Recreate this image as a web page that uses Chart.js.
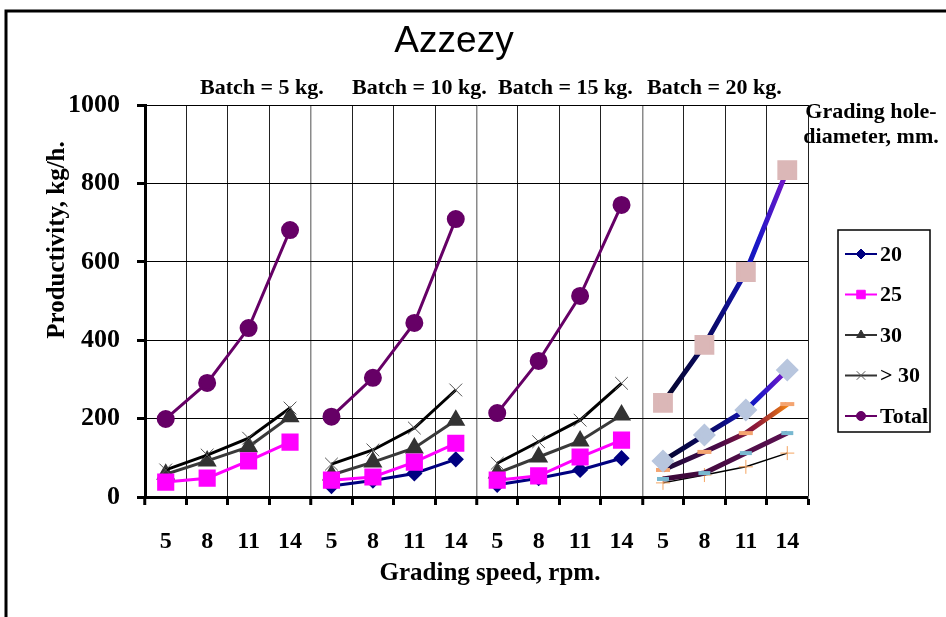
<!DOCTYPE html>
<html>
<head>
<meta charset="utf-8">
<script src="https://cdn.jsdelivr.net/npm/chart.js@4"></script>
<style>
  html, body { margin: 0; padding: 0; background: #fff; }
  #wrap { width: 946px; height: 617px; }
</style>
</head>
<body>
<div id="wrap"><canvas id="myChart" width="946" height="617"></canvas></div>
<script>
const speeds = ['5', '8', '11', '14'];
const labels = [...speeds, ...speeds, ...speeds, ...speeds];
const batches = ['Batch = 5 kg.', 'Batch = 10 kg.', 'Batch = 15 kg.', 'Batch = 20 kg.'];

// productivity, kg/h — 4 batches x 4 speeds
const d20     = [null, null, null, null, 28, 42, 60, 96, 31, 48, 69, 99, 36, 56, 77, 112];
const d25     = [38, 48, 92, 140, 43, 51, 89, 137, 43, 54, 102, 145, 46, 61, 112, 163];
const d30     = [58, 92, 128, 205, 56, 89, 125, 196, 61, 102, 143, 209, 69, 115, 163, 237];
const dOver30 = [69, 107, 150, 227, 84, 120, 176, 273, 86, 141, 196, 290, 92, 158, 222, 324];
const dTotal  = [199, 291, 431, 681, 205, 304, 444, 709, 214, 347, 513, 745, 240, 388, 574, 834];

const serif = '"Liberation Serif", "Times New Roman", serif';

// first three batches share one style, the last one is drawn differently
const first = arr => arr.map((v, i) => i < 12 ? v : null);
const last = arr => arr.map((v, i) => i >= 12 ? v : null);

// break the line between batches
const gap = { borderColor: c => c.p0DataIndex % 4 === 3 ? 'rgba(0,0,0,0)' : undefined };

function grad(stops) {
  return function (c) {
    const chart = c.chart;
    if (!chart.chartArea || !chart.scales.x) return stops[0][1];
    const x = chart.scales.x;
    const g = chart.ctx.createLinearGradient(x.getPixelForValue(12), 0, x.getPixelForValue(15), 0);
    stops.forEach(s => g.addColorStop(s[0], s[1]));
    return g;
  };
}

const frame = {
  id: 'frame',
  beforeDraw(chart) {
    const { ctx } = chart;
    ctx.save();
    ctx.fillStyle = '#fff';
    ctx.fillRect(0, 0, chart.width, chart.height);
    ctx.strokeStyle = '#000';
    ctx.lineWidth = 3;
    ctx.beginPath();
    ctx.moveTo(6, chart.height);
    ctx.lineTo(6, 11);
    ctx.lineTo(chart.width, 11);
    ctx.stroke();
    ctx.restore();
  }
};

const texts = {
  id: 'texts',
  afterDraw(chart) {
    const { ctx } = chart;
    ctx.save();
    ctx.fillStyle = '#000';
    ctx.textBaseline = 'alphabetic';

    ctx.font = '37px "Liberation Sans", Arial, sans-serif';
    ctx.textAlign = 'center';
    ctx.fillText('Azzezy', 454, 52);

    ctx.font = 'bold 22px ' + serif;
    ctx.textAlign = 'left';
    [200, 352, 498, 647].forEach((x, i) => ctx.fillText(batches[i], x, 94));

    ctx.textAlign = 'center';
    ctx.fillText('Grading hole-', 871, 118);
    ctx.fillText('diameter, mm.', 871, 143);

    ctx.font = 'bold 25px ' + serif;
    ctx.fillText('Grading speed, rpm.', 490, 580);

    ctx.save();
    ctx.translate(64, 240);
    ctx.rotate(-Math.PI / 2);
    ctx.fillText('Productivity, kg/h.', 0, 0);
    ctx.restore();

    // legend
    const L = 838, T = 230, W = 92, H = 202;
    ctx.lineWidth = 1.5;
    ctx.strokeStyle = '#000';
    ctx.strokeRect(L, T, W, H);
    ctx.font = 'bold 22px ' + serif;
    ctx.textAlign = 'left';
    ctx.textBaseline = 'middle';
    chart.data.datasets.slice(0, 5).forEach((ds, i) => {
      const y = 254 + i * 40.5;
      ctx.strokeStyle = ds.legendColor;
      ctx.lineWidth = 2;
      ctx.beginPath();
      ctx.moveTo(845, y);
      ctx.lineTo(877, y);
      ctx.stroke();
      ctx.fillStyle = ds.pointBackgroundColor;
      ctx.strokeStyle = ds.pointBorderColor;
      ctx.lineWidth = 1;
      Chart.helpers.drawPoint(ctx, { pointStyle: ds.pointStyle, radius: ds.legendRadius, rotation: 0, borderWidth: 1 }, 861, y);
      ctx.fillStyle = '#000';
      ctx.fillText(ds.label, 880, y + 1);
    });
    ctx.restore();
  }
};

new Chart(document.getElementById('myChart'), {
  type: 'line',
  data: {
    labels: labels,
    datasets: [
      {
        label: '20', data: first(d20), order: 2,
        borderColor: '#000080', legendColor: '#000080', borderWidth: 3,
        pointStyle: 'rectRot', pointRadius: 6, legendRadius: 5,
        pointBackgroundColor: '#000080', pointBorderColor: '#000080', segment: gap
      },
      {
        label: '25', data: first(d25), order: 1,
        borderColor: '#ff00ff', legendColor: '#ff00ff', borderWidth: 3,
        pointStyle: 'rect', pointRadius: 10, legendRadius: 6,
        pointBackgroundColor: '#ff00ff', pointBorderColor: '#ff00ff', segment: gap
      },
      {
        label: '30', data: first(d30), order: 4,
        borderColor: '#3a3a3a', legendColor: '#333333', borderWidth: 3,
        pointStyle: 'triangle', pointRadius: 8, legendRadius: 5,
        pointBackgroundColor: '#333333', pointBorderColor: '#333333', segment: gap
      },
      {
        label: '> 30', data: first(dOver30), order: 3,
        borderColor: '#000000', legendColor: '#333333', borderWidth: 3,
        pointStyle: 'crossRot', pointRadius: 9, legendRadius: 6, pointBorderWidth: 1,
        pointBackgroundColor: '#555555', pointBorderColor: '#555555', segment: gap
      },
      {
        label: 'Total', data: first(dTotal), order: 5,
        borderColor: '#660066', legendColor: '#660066', borderWidth: 3,
        pointStyle: 'circle', pointRadius: 7.5, legendRadius: 4.5,
        pointBackgroundColor: '#660066', pointBorderColor: '#660066', segment: gap
      },
      // batch = 20 kg.
      {
        label: 'Total 20kg', data: last(dTotal), order: 6,
        borderColor: grad([[0, '#05052a'], [0.4, '#0a0a6a'], [0.75, '#1818c8'], [1, '#7a18c8']]), borderWidth: 5,
        pointStyle: 'rect', pointRadius: 10.5,
        pointBackgroundColor: '#dbb7b7', pointBorderColor: '#dbb7b7'
      },
      {
        label: '> 30 20kg', data: last(dOver30), order: 6,
        borderColor: grad([[0, '#05052a'], [0.4, '#0a0a6a'], [0.75, '#1818c8'], [1, '#7a18c8']]), borderWidth: 5,
        pointStyle: 'rectRot', pointRadius: 8,
        pointBackgroundColor: '#b8c6de', pointBorderColor: '#b8c6de'
      },
      {
        label: '30 20kg', data: last(d30), order: 6,
        borderColor: grad([[0, '#1a0a3a'], [0.45, '#4a0a48'], [0.75, '#901838'], [1, '#f08010']]), borderWidth: 5,
        pointStyle: 'line', pointRadius: 7, pointBorderWidth: 4,
        pointBackgroundColor: '#f4a470', pointBorderColor: '#f4a470'
      },
      {
        label: '25 20kg', data: last(d25), order: 6,
        borderColor: grad([[0, '#3a0838'], [1, '#5a1050']]), borderWidth: 5,
        pointStyle: 'line', pointRadius: 6, pointBorderWidth: 4,
        pointBackgroundColor: '#78b8d0', pointBorderColor: '#78b8d0'
      },
      {
        label: '20 20kg', data: last(d20), order: 6,
        borderColor: '#000000', borderWidth: 1.5,
        pointStyle: 'cross', pointRadius: 7, pointBorderWidth: 1,
        pointBackgroundColor: '#f4a460', pointBorderColor: '#f4a460'
      }
    ]
  },
  options: {
    responsive: false,
    animation: false,
    layout: { padding: { top: 105, right: 138, left: 0, bottom: 0 } },
    elements: { line: { tension: 0 } },
    plugins: {
      legend: { display: false },
      title: { display: false },
      tooltip: { enabled: false }
    },
    scales: {
      x: {
        offset: true,
        afterFit: s => { s.height = 120; },
        grid: {
          offset: true,
          color: c => c.index % 4 === 0 ? '#8a8a8a' : '#222222',
          lineWidth: c => c.index % 4 === 0 ? 1.5 : 1,
          tickColor: '#000', tickLength: 8, tickWidth: 3
        },
        border: { color: '#000', width: 3 },
        ticks: {
          color: '#000', padding: 22, maxRotation: 0, autoSkip: false,
          font: { family: serif, size: 24, weight: 'bold' }
        }
      },
      y: {
        min: 0, max: 1000,
        afterFit: s => { s.width = 145; },
        grid: { color: '#000', lineWidth: 1, tickColor: '#000', tickLength: 8, tickWidth: 3 },
        border: { color: '#000', width: 3 },
        ticks: {
          stepSize: 200, color: '#000', padding: 17,
          callback: v => String(v),
          font: { family: serif, size: 26, weight: 'bold' }
        }
      }
    }
  },
  plugins: [frame, texts]
});
</script>
</body>
</html>
